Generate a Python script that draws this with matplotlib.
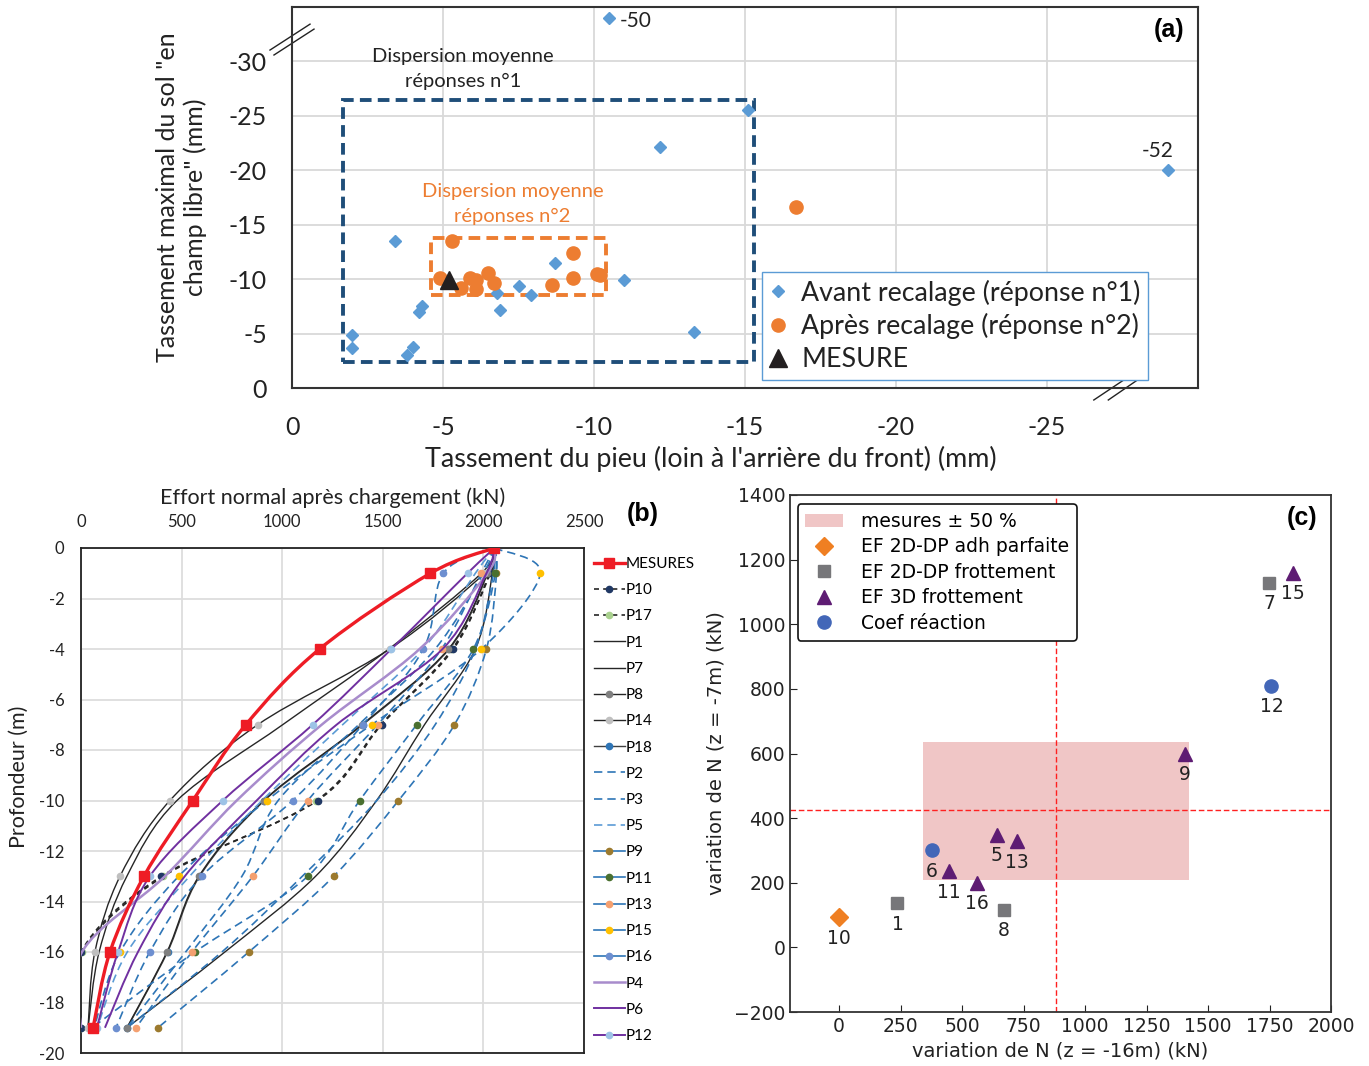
import numpy as np
import matplotlib
matplotlib.use('Agg')
import matplotlib.pyplot as plt
from matplotlib.path import Path
from matplotlib.patches import PathPatch, Rectangle
from matplotlib.lines import Line2D

plt.rcParams['font.family'] = ['Lato', 'DejaVu Sans']

# ---------------- (a) settlements ----------------
avant_x = [-10.5, -29.0, -15.1, -12.2, -3.4, -8.7, -11.0, -7.5, -6.8, -7.9,
           -6.9, -4.3, -4.2, -13.3, -2.0, -2.0, -4.0, -3.8]
avant_y = [-34.0, -20.0, -25.5, -22.1, -13.5, -11.5, -9.9, -9.4, -8.7, -8.5,
           -7.2, -7.5, -7.0, -5.1, -4.9, -3.7, -3.8, -3.0]
apres_x = [-5.3, -9.3, -6.5, -4.9, -5.9, -6.1, -6.7, -5.6, -6.1, -9.3,
           -8.6, -10.1, -10.2, -16.7]
apres_y = [-13.5, -12.4, -10.6, -10.1, -10.1, -9.9, -9.6, -9.2, -9.1, -10.1,
           -9.5, -10.5, -10.4, -16.6]
mesure_x = [-5.2]
mesure_y = [-9.9]
a_xticks = [0, -5, -10, -15, -20, -25]
a_yticks = [0, -5, -10, -15, -20, -25, -30]

# ---------------- (b) normal force profiles (kN) ----------------
depths = [0, -1, -4, -7, -10, -13, -16, -19]
mesures = [2055, 1737, 1186, 819, 556, 313, 144, 60]
p10 = [2055, 2030, 1851, 1494, 1176, 400, 0, 0]
p17 = [2055, 2035, 1845, 1490, 1170, 410, 5, 0]
p1 = [2055, 1990, 1530, 1002, 477, 228, 90, 35]
p7 = [2055, 2045, 1960, 1707, 1469, 1166, 715, 228]
p8 = [2055, 2020, 1826, 1395, 908, 586, 427, 228]
p14 = [2055, 2005, 1534, 878, 442, 194, 69, 35]
p18 = [2055, 2022, 1830, 1400, 912, 590, 430, 230]
p2 = [2055, 2050, 1960, 1760, 1470, 1100, 700, 228]
p3 = [2055, 2000, 1760, 1380, 980, 800, 520, 228]
p5 = [2055, 1960, 1700, 1300, 900, 540, 230, 80]
p9 = [2055, 2065, 2015, 1856, 1578, 1256, 834, 382]
p11 = [2055, 2060, 1950, 1668, 1385, 1127, 566, 55]
p13 = [2055, 1990, 1792, 1474, 1127, 854, 551, 273]
p15 = [2055, 2283, 1990, 1444, 923, 486, 194, 65]
p16 = [2055, 1801, 1702, 1400, 1052, 600, 342, 174]
p4 = [2055, 2020, 1683, 1196, 774, 417, 5, 0]
p6 = [2055, 2015, 1797, 1270, 873, 516, 283, 119]
p12 = [2055, 1921, 1543, 1151, 705, 342, 184, 79]
b_xticks = [0, 500, 1000, 1500, 2000, 2500]
b_yticks = [0, -2, -4, -6, -8, -10, -12, -14, -16, -18, -20]

# ---------------- (c) variations ----------------
adh_x, adh_y, adh_lab = [0], [93], ['10']
f2d_x, f2d_y, f2d_lab = [237, 671, 1749], [136, 116, 1129], ['1', '8', '7']
f3d_x = [445, 560, 641, 724, 1405, 1846]
f3d_y = [235, 199, 348, 328, 600, 1160]
f3d_lab = ['11', '16', '5', '13', '9', '15']
coef_x, coef_y, coef_lab = [377, 1758], [300, 809], ['6', '12']
mes_n16, mes_n7 = 883, 426
zone_n16 = [342, 1423]
zone_n7 = [210, 637]


def smooth_path(x, y):
    # Excel-like smoothed line (Catmull-Rom as cubic Bezier segments)
    pts = np.column_stack([x, y]).astype(float)
    n = len(pts)
    verts = [pts[0]]
    codes = [Path.MOVETO]
    for i in range(n - 1):
        p0 = pts[i - 1] if i > 0 else pts[i]
        p1_ = pts[i]
        p2_ = pts[i + 1]
        p3_ = pts[i + 2] if i + 2 < n else pts[i + 1]
        verts += [p1_ + (p2_ - p0) / 6, p2_ - (p3_ - p1_) / 6, p2_]
        codes += [Path.CURVE4] * 3
    return Path(verts, codes)


W, H = 1369, 1066
fig = plt.figure(figsize=(W / 100, H / 100), dpi=100)

# ======================= panel (a) =======================
ax = fig.add_axes([292 / W, 1 - 388 / H, 906 / W, 381 / H])
ax.set_xlim(0, -30)
ax.set_ylim(0, -35)
ax.set_xticks(a_xticks + [-30])
ax.set_xticklabels([str(v) for v in a_xticks] + [''])
ax.set_yticks(a_yticks)
ax.set_yticklabels([str(v) for v in a_yticks])
ax.tick_params(length=0, labelsize=18, colors='#222222')
ax.tick_params(axis='y', pad=18)
ax.tick_params(axis='x', pad=20)
ax.grid(color='#d9d9d9', lw=1.3)
ax.set_axisbelow(True)
for s in ax.spines.values():
    s.set_color('#333333')
    s.set_linewidth(1.5)

ax.add_patch(Rectangle((-1.7, -2.4), -13.6, -24.1, fill=False, ec='#1f4e79',
                       lw=2.8, ls=(0, (3, 1.6)), zorder=2))
ax.add_patch(Rectangle((-4.6, -8.5), -5.8, -5.3, fill=False, ec='#ed7d31',
                       lw=2.8, ls=(0, (3, 1.6)), zorder=2))
ax.text(-5.65, -29.3, 'Dispersion moyenne\nréponses n°1', ha='center', va='center',
        fontsize=14.5, color='#222222', linespacing=1.5)
ax.text(-7.3, -16.9, 'Dispersion moyenne\nréponses n°2', ha='center', va='center',
        fontsize=14.5, color='#ed7d31', linespacing=1.5)

ax.plot(avant_x, avant_y, 'D', color='#5b9bd5', ms=6.5, ls='none', zorder=3,
        label='Avant recalage (réponse n°1)')
ax.plot(apres_x, apres_y, 'o', color='#ed7d31', ms=9.5, ls='none', zorder=3,
        label='Après recalage (réponse n°2)')
ax.plot(mesure_x, mesure_y, '^', color='#231f20', ms=13, ls='none', zorder=4,
        label='MESURE')
ax.annotate('-50', (avant_x[0], avant_y[0]), xytext=(8, -2), textcoords='offset points',
            ha='left', va='center', fontsize=15, color='#222222')
ax.annotate('-52', (avant_x[1], avant_y[1]), xytext=(-7, 7), textcoords='offset points',
            ha='center', va='bottom', fontsize=15, color='#222222')
leg = ax.legend(loc='lower left', bbox_to_anchor=(0.519, 0.021), fontsize=19.3,
                frameon=True, fancybox=False, edgecolor='#5b9bd5', framealpha=1,
                handlelength=0.6, handletextpad=0.55, labelspacing=0.28,
                borderpad=0.3, borderaxespad=0)
leg.get_frame().set_linewidth(1.0)
for t in leg.get_texts():
    t.set_color('#222222')

# axis break marks
kw = dict(transform=ax.transAxes, color='#222222', lw=1.0, clip_on=False)
ax.plot([-0.0243, 0.0199], [0.887, 0.955], **kw)
ax.plot([-0.0199, 0.0243], [0.874, 0.942], **kw)
ax.plot([0.885, 0.923], [-0.0315, 0.0289], **kw)
ax.plot([0.901, 0.938], [-0.0315, 0.0289], **kw)

ax.set_xlabel("Tassement du pieu (loin à l'arrière du front) (mm)", fontsize=19.4,
              color='#222222')
ax.xaxis.set_label_coords(0.4625, -0.152)
ax.set_ylabel('Tassement maximal du sol "en\nchamp libre" (mm)', fontsize=18,
              color='#222222', linespacing=1.2)
ax.yaxis.set_label_coords(-0.094, 0.5)
ax.text(0.985, 0.94, '(a)', transform=ax.transAxes, ha='right', va='center',
        fontsize=18, fontweight='bold', family=['Liberation Sans', 'DejaVu Sans'])

# ======================= panel (b) =======================
bx = fig.add_axes([81 / W, 1 - 1053 / H, 503 / W, 505 / H])
bx.set_xlim(0, 2500)
bx.set_ylim(-20, 0)
bx.xaxis.tick_top()
bx.xaxis.set_label_position('top')
bx.set_xticks(b_xticks)
bx.set_xticklabels([str(v) for v in b_xticks])
bx.set_yticks(b_yticks)
bx.set_yticklabels([str(v) for v in b_yticks])
bx.tick_params(length=0, labelsize=12, colors='#222222')
bx.tick_params(axis='x', pad=13)
bx.tick_params(axis='y', pad=12)
bx.grid(color='#dddddd', lw=1.3)
bx.set_axisbelow(True)
for s in bx.spines.values():
    s.set_color('#222222')
    s.set_linewidth(1.3)

blue = '#2e75b6'
dk = '#262626'
dash_b = (0, (5, 3))
dash_k = (0, (3, 2.5))
series = [
    ('MESURES', mesures, '#ee1c25', '-', 2.4, '#ee1c25', 's', 6.5, 20),
    ('P10', p10, dk, dash_k, 1.2, '#203864', 'o', 4.5, 6),
    ('P17', p17, dk, dash_k, 1.2, '#a9d18e', 'o', 4.5, 5),
    ('P1', p1, dk, '-', 1.0, None, None, 0, 6),
    ('P7', p7, dk, '-', 1.0, None, None, 0, 6),
    ('P8', p8, dk, '-', 1.0, '#7f7f7f', 'o', 4.5, 6),
    ('P14', p14, dk, '-', 1.0, '#bfbfbf', 'o', 4.5, 6),
    ('P18', p18, '#404040', '-', 1.0, '#2e75b6', 'o', 4.5, 5),
    ('P2', p2, blue, dash_b, 1.2, None, None, 0, 6),
    ('P3', p3, blue, dash_b, 1.2, None, None, 0, 6),
    ('P5', p5, '#5b9bd5', dash_b, 1.2, None, None, 0, 6),
    ('P9', p9, blue, dash_b, 1.2, '#9c7a2e', 'o', 4.5, 6),
    ('P11', p11, blue, dash_b, 1.2, '#4a7030', 'o', 4.5, 6),
    ('P13', p13, blue, dash_b, 1.2, '#f4a070', 'o', 4.5, 6),
    ('P15', p15, blue, dash_b, 1.2, '#ffc000', 'o', 4.5, 6),
    ('P16', p16, blue, dash_b, 1.2, '#6d8fd0', 'o', 4.5, 6),
    ('P4', p4, '#a88ccc', '-', 1.8, None, None, 0, 7),
    ('P6', p6, '#7030a0', '-', 1.4, None, None, 0, 7),
    ('P12', p12, '#7030a0', '-', 1.4, '#9dc3e6', 'o', 4.5, 7),
]
handles = []
for name, vals, col, ls, lw, mcol, mk, ms, z in series:
    bx.add_patch(PathPatch(smooth_path(vals, depths), fill=False, ec=col, lw=lw,
                           ls=ls, zorder=z, capstyle='butt'))
    if mk:
        bx.plot(vals, depths, ls='none', marker=mk, ms=ms, color=mcol, mec=mcol,
                zorder=z + 0.5)
    # marker series show a solid segment in the legend, as in the original
    hls = '-' if (mk and ls == dash_b) else ls
    handles.append(Line2D([], [], color=col, ls=hls, lw=lw, marker=mk, ms=ms,
                          mfc=mcol, mec=mcol, label=name))

fig.legend(handles=handles, loc='upper left', bbox_to_anchor=(594 / W, 1 - 557 / H),
           frameon=False, fontsize=11, handlelength=2.0, handletextpad=0.1,
           labelspacing=0.8, borderaxespad=0, borderpad=0)
bx.set_xlabel('Effort normal après chargement (kN)', fontsize=15.5, color='#222222',
              labelpad=7)
bx.set_ylabel('Profondeur (m)', fontsize=15.5, color='#222222')
bx.yaxis.set_label_coords(-0.103, 0.547)
fig.text(643 / W, 1 - 514 / H, '(b)', ha='center', va='center', fontsize=18,
         fontweight='bold', family=['Liberation Sans', 'DejaVu Sans'])

# ======================= panel (c) =======================
cx = fig.add_axes([790 / W, 1 - 1012 / H, 541 / W, 517 / H])
cx.set_xlim(-200, 2000)
cx.set_ylim(-200, 1400)
cx.set_xticks([0, 250, 500, 750, 1000, 1250, 1500, 1750, 2000])
cx.set_yticks([-200, 0, 200, 400, 600, 800, 1000, 1200, 1400])
cx.tick_params(direction='in', length=5, labelsize=13.5, colors='#222222',
               labelfontfamily='DejaVu Sans')
for s in cx.spines.values():
    s.set_color('#333333')
    s.set_linewidth(1.3)

cx.add_patch(Rectangle((zone_n16[0], zone_n7[0]), zone_n16[1] - zone_n16[0],
                       zone_n7[1] - zone_n7[0], fc='#f0c6c6', ec='none', zorder=1,
                       label='mesures ± 50 %'))
cx.axvline(mes_n16, color='#ff2020', ls=(0, (4, 2)), lw=1.0, zorder=2)
cx.axhline(mes_n7, color='#ff2020', ls=(0, (4, 2)), lw=1.0, zorder=2)
cx.plot(adh_x, adh_y, 'D', color='#ef7f22', ms=9, ls='none', zorder=3,
        label='EF 2D-DP adh parfaite')
cx.plot(f2d_x, f2d_y, 's', color='#77777a', ms=9, ls='none', zorder=3,
        label='EF 2D-DP frottement')
cx.plot(f3d_x, f3d_y, '^', color='#5e1c73', ms=10, ls='none', zorder=3,
        label='EF 3D frottement')
cx.plot(coef_x, coef_y, 'o', color='#4367b8', ms=9.5, ls='none', zorder=3,
        label='Coef réaction')
for xs, ys, labs in [(adh_x, adh_y, adh_lab), (f2d_x, f2d_y, f2d_lab),
                     (f3d_x, f3d_y, f3d_lab), (coef_x, coef_y, coef_lab)]:
    for xv, yv, lb in zip(xs, ys, labs):
        cx.annotate(lb, (xv, yv), xytext=(0, -15), textcoords='offset points',
                    ha='center', va='center', fontsize=13.5, color='#222222',
                    family='DejaVu Sans')
lg = cx.legend(loc='upper left', bbox_to_anchor=(0.014, 0.982),
               prop={'family': 'DejaVu Sans', 'size': 13.5}, frameon=True,
               edgecolor='#111111', framealpha=1, handlelength=2.0,
               handletextpad=1.0, labelspacing=0.35, borderaxespad=0)
lg.get_frame().set_linewidth(1.2)
cx.set_xlabel('variation de N (z = -16m) (kN)', fontsize=14, color='#222222',
              family='DejaVu Sans', labelpad=4)
cx.set_ylabel('variation de N (z = -7m) (kN)', fontsize=14, color='#222222',
              family='DejaVu Sans', labelpad=6)
cx.text(0.975, 0.955, '(c)', transform=cx.transAxes, ha='right', va='center',
        fontsize=18, fontweight='bold', family=['Liberation Sans', 'DejaVu Sans'])

fig.savefig('out.png', dpi=100)
